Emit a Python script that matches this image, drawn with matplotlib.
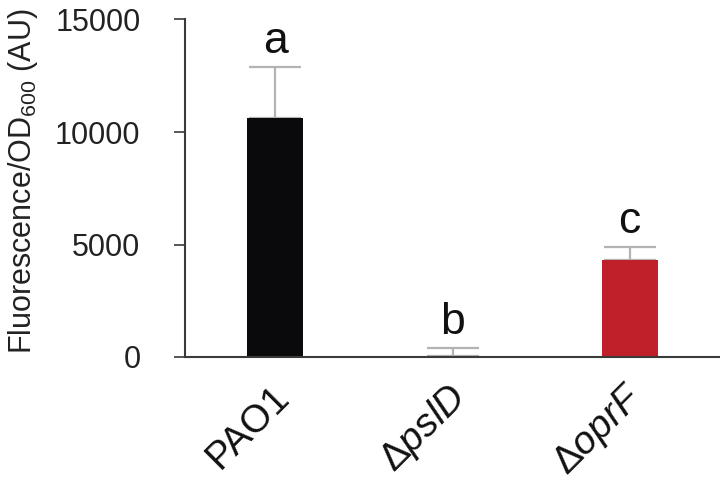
import matplotlib
matplotlib.use("Agg")
import matplotlib.pyplot as plt
import matplotlib.transforms as mtransforms

plt.rcParams['font.family'] = ['Liberation Sans', 'DejaVu Sans']
plt.rcParams['mathtext.fontset'] = 'custom'
plt.rcParams['mathtext.rm'] = 'Liberation Sans'
plt.rcParams['mathtext.it'] = 'Liberation Sans:italic'
plt.rcParams['mathtext.bf'] = 'Liberation Sans:bold'

categories = [r'PAO1', r'$\Delta\mathit{pslD}$', r'$\Delta\mathit{oprF}$']
values = [10640, 30, 4300]
errors = [2240, 370, 600]
letters = ['a', 'b', 'c']
colors = ['#0a0a0c', '#ffffff', '#c0202a']

fig = plt.figure(figsize=(7.2, 4.88), dpi=100)
ax = fig.add_axes([185/720, 1-357/488, 1-185/720, (357-19.5)/488])

x = list(range(len(categories)))
ax.bar(x, values, width=0.316, color=colors, zorder=2)
ax.errorbar(x, values, yerr=[[0]*3, errors], fmt='none', ecolor='#b3b3b3',
            elinewidth=1.6, capsize=18.5, capthick=1.6, zorder=1)

for xi, v, e, t in zip(x, values, errors, letters):
    ax.annotate(t, (xi, v + e), xytext=(0, 10), textcoords='offset points',
                ha='center', va='baseline', fontsize=32, color='#111111')

ax.set_xlim(-0.511, 2.511)
ax.set_ylim(0, 15000)
ax.set_yticks([0, 5000, 10000, 15000])
ax.set_yticklabels(['0', '5000', '10000', '15000'])
ax.set_xticks(x)
ax.set_xticklabels([])

offset = mtransforms.ScaledTranslation(8/100, -34.7/100, fig.dpi_scale_trans)
for xi, lab in zip(x, categories):
    ax.text(xi, 0, lab, transform=ax.get_xaxis_transform() + offset,
            rotation=45, ha='right', va='center', rotation_mode='anchor',
            fontsize=28, color='#111111', clip_on=False)

for s in ['top', 'right']:
    ax.spines[s].set_visible(False)
for s in ['left', 'bottom']:
    ax.spines[s].set_color('#3a3a3a')
    ax.spines[s].set_linewidth(1.5)

ax.tick_params(axis='y', direction='out', length=8, width=1.2, color='#3a3a3a',
               labelsize=22, pad=24, labelcolor='#222222')
ax.tick_params(axis='x', length=0)

ax.set_ylabel(r'Fluorescence/OD$_{600}$ (AU)', fontsize=22, color='#222222')
ax.yaxis.set_label_coords((40-185)/535, 0.52)

fig.savefig('out.png', dpi=100)
